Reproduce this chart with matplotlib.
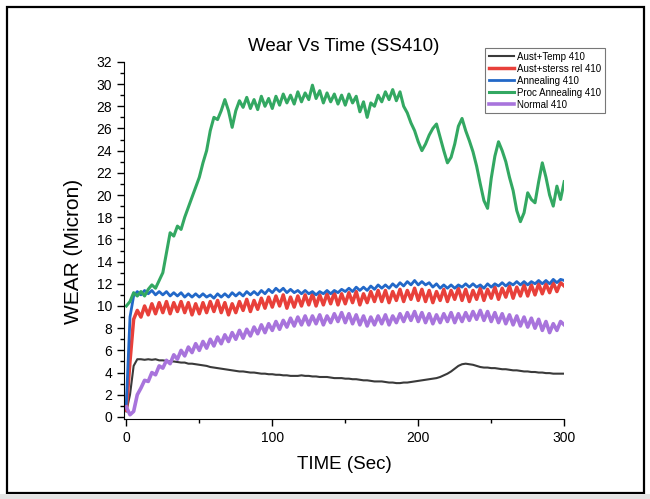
import numpy as np
import matplotlib
matplotlib.use("Agg")
import matplotlib.pyplot as plt
from matplotlib.patches import Rectangle

plt.rcParams['font.family'] = ['Liberation Sans', 'DejaVu Sans']

# time grid (s), one reading every 2.5 s
time_s = np.arange(0, 300.1, 2.5)

aust_temp = [
    0.5, 2.0, 4.6, 5.2, 5.2, 5.15, 5.2, 5.15, 5.2, 5.1,
    5.1, 5.05, 5.0, 5.0, 4.95, 4.9, 4.9, 4.8, 4.8, 4.75,
    4.7, 4.65, 4.6, 4.5, 4.45, 4.4, 4.35, 4.3, 4.25, 4.2,
    4.15, 4.1, 4.1, 4.05, 4.0, 4.0, 3.95, 3.9, 3.9, 3.85,
    3.85, 3.8, 3.8, 3.75, 3.75, 3.7, 3.7, 3.7, 3.75, 3.7,
    3.7, 3.65, 3.65, 3.6, 3.6, 3.6, 3.55, 3.5, 3.5, 3.5,
    3.45, 3.45, 3.4, 3.4, 3.35, 3.3, 3.3, 3.25, 3.2, 3.2,
    3.2, 3.15, 3.1, 3.1, 3.05, 3.05, 3.1, 3.1, 3.15, 3.2,
    3.25, 3.3, 3.35, 3.4, 3.45, 3.5, 3.6, 3.75, 3.9, 4.1,
    4.35, 4.6, 4.75, 4.8, 4.75, 4.7, 4.6, 4.5, 4.45, 4.45,
    4.4, 4.4, 4.35, 4.3, 4.3, 4.25, 4.2, 4.2, 4.15, 4.1,
    4.1, 4.05, 4.05, 4.0, 4.0, 3.95, 3.95, 3.9, 3.9, 3.9,
    3.9,
]

aust_stress = [
    0.6, 5.0, 8.8, 9.6, 9.0, 10.0, 9.2, 10.2, 9.3, 10.3,
    9.4, 10.4, 9.3, 10.3, 9.5, 10.4, 9.4, 10.3, 9.2, 10.2,
    9.3, 10.3, 9.4, 10.4, 9.5, 10.5, 9.4, 10.3, 9.2, 10.2,
    9.4, 10.4, 9.6, 10.6, 9.5, 10.5, 9.7, 10.7, 9.8, 10.8,
    9.9, 10.9, 10.0, 11.0, 9.8, 10.8, 9.9, 10.9, 10.0, 11.0,
    10.1, 11.1, 10.0, 11.0, 10.1, 11.1, 10.2, 11.2, 10.1, 11.1,
    10.2, 11.2, 10.3, 11.3, 10.1, 11.1, 10.3, 11.3, 10.4, 11.4,
    10.4, 11.4, 10.3, 11.3, 10.5, 11.5, 10.4, 11.4, 10.6, 11.6,
    10.5, 11.5, 10.4, 11.4, 10.3, 11.3, 10.5, 11.5, 10.4, 11.4,
    10.6, 11.6, 10.5, 11.5, 10.4, 11.4, 10.6, 11.6, 10.5, 11.5,
    10.7, 11.7, 10.6, 11.6, 10.8, 11.8, 10.7, 11.7, 10.9, 11.9,
    10.9, 11.9, 11.0, 12.0, 11.1, 12.0, 11.2, 12.1, 11.3, 12.1,
    11.8,
]

annealing = [
    1.2, 9.0, 10.9, 11.3, 11.0, 11.4, 11.1, 11.4, 11.0, 11.3,
    11.0, 11.3, 10.9, 11.2, 10.9, 11.2, 10.8, 11.1, 10.8, 11.1,
    10.8, 11.1, 10.8, 11.0, 10.7, 11.1, 10.8, 11.1, 10.8, 11.2,
    10.9, 11.2, 10.9, 11.3, 11.0, 11.3, 11.0, 11.4, 11.1, 11.5,
    11.2, 11.6, 11.3, 11.6, 11.2, 11.5, 11.2, 11.4, 11.1, 11.4,
    11.1, 11.3, 11.0, 11.3, 11.1, 11.4, 11.1, 11.4, 11.2, 11.5,
    11.3, 11.6, 11.3, 11.7, 11.4, 11.7, 11.4, 11.8, 11.5, 11.9,
    11.6, 11.9, 11.6, 12.0, 11.7, 12.1, 11.8, 12.2, 11.9, 12.3,
    11.9, 12.2, 11.9, 12.1, 11.7, 12.0, 11.6, 11.9, 11.6, 11.9,
    11.6, 11.9, 11.7, 12.0, 11.7, 12.0, 11.7, 11.9, 11.6, 12.0,
    11.7, 12.0, 11.8, 12.1, 11.8, 12.1, 11.9, 12.2, 11.9, 12.2,
    11.9, 12.2, 12.0, 12.3, 12.0, 12.3, 12.0, 12.4, 12.1, 12.4,
    12.3,
]

proc_annealing = [
    10.0, 10.4, 11.2, 10.9, 11.3, 10.9, 11.5, 11.9, 11.6, 12.3,
    13.0, 14.8, 16.6, 16.3, 17.2, 16.9, 18.0, 18.9, 19.8, 20.7,
    21.6, 22.9, 24.0, 25.8, 27.0, 26.8, 27.6, 28.6, 27.6, 26.1,
    27.6, 28.5, 27.9, 28.8, 27.8, 28.6, 27.7, 28.9, 28.0, 28.7,
    27.8, 28.9, 28.1, 29.1, 28.3, 29.0, 28.2, 29.3, 28.4, 29.2,
    28.6, 29.9, 28.7, 29.4, 28.3, 29.2, 28.4, 29.1, 28.2, 29.0,
    28.1, 29.1, 28.3, 28.9, 27.5, 28.4, 27.0, 28.3, 28.0, 29.0,
    28.4, 29.3, 28.6, 29.5, 28.5, 29.3, 28.0, 27.4, 26.5, 25.8,
    24.8, 24.0, 24.6, 25.4, 26.0, 26.4, 25.2, 24.0, 22.9, 23.4,
    24.6, 26.2, 26.9, 25.8, 24.9, 23.9, 22.6, 21.0, 19.5, 18.8,
    21.5, 23.5, 24.8, 24.0, 23.0, 21.6, 20.4, 18.6, 17.6, 18.4,
    20.2, 19.6, 19.3, 21.2, 22.9, 21.6, 20.0, 19.0, 20.8, 19.6,
    21.2,
]

normal = [
    0.9, 0.2, 0.5, 2.0, 2.6, 3.3, 3.2, 4.0, 3.8, 4.6,
    4.4, 5.1, 4.8, 5.6, 5.2, 6.0, 5.5, 6.3, 5.8, 6.6,
    6.0, 6.8, 6.2, 7.0, 6.4, 7.2, 6.6, 7.4, 6.8, 7.6,
    7.0, 7.8, 7.1, 7.9, 7.3, 8.1, 7.5, 8.3, 7.6, 8.4,
    7.8, 8.6, 7.9, 8.7, 8.1, 8.9, 8.2, 9.0, 8.3, 9.1,
    8.3, 9.1, 8.4, 9.2, 8.3, 9.1, 8.5, 9.3, 8.6, 9.4,
    8.5, 9.3, 8.4, 9.2, 8.3, 9.1, 8.2, 9.0, 8.3, 9.1,
    8.4, 9.2, 8.3, 9.1, 8.5, 9.3, 8.6, 9.4, 8.7, 9.5,
    8.6, 9.4, 8.5, 9.3, 8.4, 9.2, 8.5, 9.3, 8.6, 9.4,
    8.5, 9.3, 8.6, 9.4, 8.7, 9.5, 8.8, 9.6, 8.7, 9.5,
    8.6, 9.4, 8.5, 9.3, 8.4, 9.2, 8.3, 9.1, 8.2, 9.0,
    8.1, 8.9, 8.0, 8.8, 7.8, 8.6, 7.6, 8.4, 7.8, 8.6,
    8.3,
]

fig = plt.figure(figsize=(6.5, 4.99), dpi=100)
ax = fig.add_axes([0.191, 0.160, 0.677, 0.716])

ax.plot(time_s, aust_temp, color='#3a3a3a', lw=1.5, label='Aust+Temp 410')
ax.plot(time_s, aust_stress, color='#e8403a', lw=2.5, label='Aust+sterss rel 410')
ax.plot(time_s, annealing, color='#2268c8', lw=2.0, label='Annealing 410')
ax.plot(time_s, proc_annealing, color='#33a862', lw=2.2, label='Proc Annealing 410')
ax.plot(time_s, normal, color='#a874dc', lw=2.6, label='Normal 410')

ax.set_xlim(-1.5, 300)
ax.set_ylim(-0.2, 32)
ax.set_xticks([0, 100, 200, 300])
ax.set_xticks([50, 150, 250], minor=True)
ax.set_yticks(np.arange(0, 33, 2))
ax.set_yticks(np.arange(1, 32, 2), minor=True)
ax.tick_params(which='major', direction='out', length=5, width=1, labelsize=10)
ax.tick_params(which='minor', direction='out', length=3, width=1)
for s in ['top', 'right']:
    ax.spines[s].set_visible(False)

ax.set_title('Wear Vs Time (SS410)', fontsize=13.5, pad=8)
ax.set_xlabel('TIME (Sec)', fontsize=13.5, labelpad=8)
ax.set_ylabel('WEAR (Micron)', fontsize=15)
ax.yaxis.set_label_coords(-0.094, 0.47)

leg = ax.legend(loc='upper left', bbox_to_anchor=(0.746, 0.904),
                bbox_transform=fig.transFigure, fontsize=7, frameon=True,
                fancybox=False, edgecolor='#555555', handlelength=2.6,
                borderpad=0.4, labelspacing=0.2, handletextpad=0.3,
                borderaxespad=0)
leg.get_frame().set_linewidth(0.8)

# outer frame of the picture
fig.patches.append(Rectangle((7 / 650, 6 / 499), 637 / 650, 486 / 499,
                             transform=fig.transFigure, fill=False,
                             edgecolor='black', lw=1.6))
fig.patches.append(Rectangle((0, 0), 1, 5 / 499, transform=fig.transFigure,
                             facecolor='#e4e4e4', edgecolor='none'))

fig.savefig('out.png', dpi=100)
